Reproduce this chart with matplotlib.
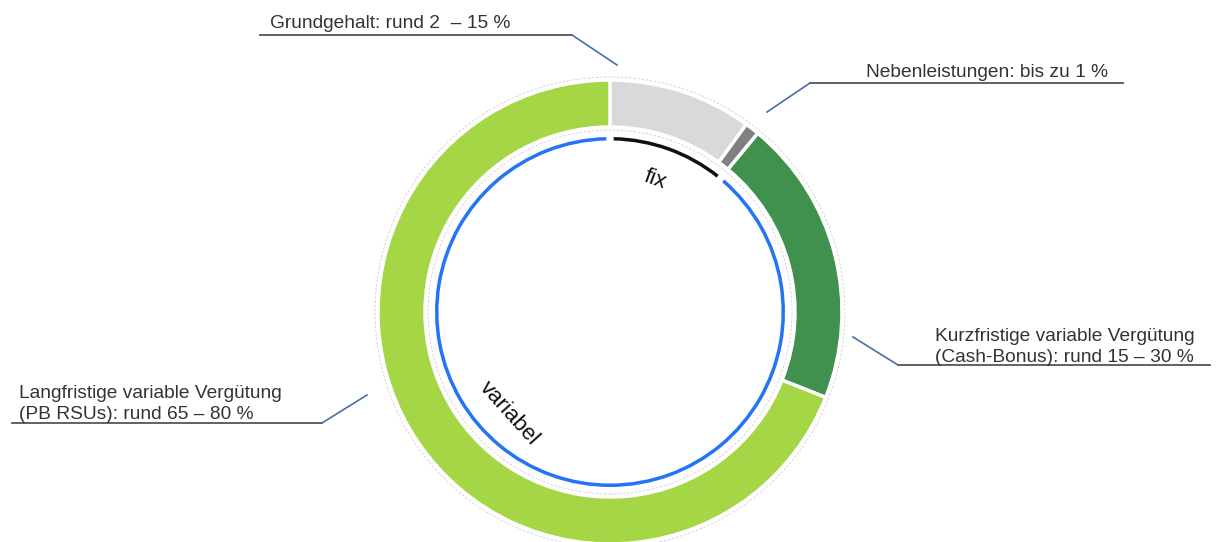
import matplotlib.pyplot as plt
from matplotlib.patches import Circle

plt.rcParams['font.family'] = ['Liberation Sans', 'DejaVu Sans']

# Anteile der Vergütungsbestandteile (im Uhrzeigersinn ab 12 Uhr)
segmente = ['Grundgehalt', 'Nebenleistungen', 'Kurzfristig', 'Langfristig']
anteile = [10, 1, 20, 69]
farben = ['#d9d9d9', '#808080', '#40914e', '#a5d645']

# innerer Ring: fix / variabel
ring_namen = ['fix', 'variabel']
ring_werte = [11, 89]
ring_farben = ['#111111', '#2474f5']

labels = ['Grundgehalt: rund 2  \u2013 15 %',
          'Nebenleistungen: bis zu 1 %',
          'Kurzfristige variable Vergütung\n(Cash-Bonus): rund 15 \u2013 30 %',
          'Langfristige variable Vergütung\n(PB RSUs): rund 65 \u2013 80 %']

W, H = 1218, 542
fig = plt.figure(figsize=(W / 100, H / 100), dpi=100)
ax = fig.add_axes([0, 0, 1, 1])

cx, cy = 610, H - 312

ax.pie(anteile, colors=farben, startangle=90, counterclock=False,
       radius=232, center=(cx, cy), frame=True,
       wedgeprops=dict(width=47, edgecolor='white', linewidth=2.5))
ring, _ = ax.pie(ring_werte, colors=ring_farben, startangle=90, counterclock=False,
                 radius=175, center=(cx, cy), frame=True,
                 wedgeprops=dict(width=3.5, linewidth=0))
# kleine Lücken zwischen den Bögen
for w in ring:
    w.set_theta1(w.theta1 + 1.2)
    w.set_theta2(w.theta2 - 1.2)

ax.set_xlim(0, W)
ax.set_ylim(0, H)
ax.set_aspect('equal')
ax.axis('off')

# dünne gestrichelte Randlinien
for r in (235, 182):
    ax.add_patch(Circle((cx, cy), r, fill=False, ec='#d0d0d0', lw=0.6, ls=(0, (3, 2))))

ax.text(655, H - 180, ring_namen[0], fontsize=16, rotation=-20,
        ha='center', va='center', color='#111111')
ax.text(509, H - 413, ring_namen[1], fontsize=16, rotation=-48,
        ha='center', va='center', color='#111111')

txt = dict(fontsize=13.8, color='#333333', linespacing=1.3)
grau = '#555555'
blau = '#4a6fa8'

# Grundgehalt
ax.plot([260, 572], [H - 35, H - 35], color=grau, lw=1.3)
ax.plot([572, 617], [H - 35, H - 65], color=blau, lw=1.2)
ax.text(270, H - 28, labels[0], ha='left', va='baseline', **txt)

# Nebenleistungen
ax.plot([810, 1123], [H - 83, H - 83], color=grau, lw=1.3)
ax.plot([810, 767], [H - 83, H - 112], color=blau, lw=1.2)
ax.text(866, H - 77, labels[1], ha='left', va='baseline', **txt)

# Kurzfristig
ax.plot([898, 1210], [H - 365, H - 365], color=grau, lw=1.3)
ax.plot([853, 898], [H - 337, H - 365], color=blau, lw=1.2)
ax.text(935, H - 362, labels[2], ha='left', va='baseline', **txt)

# Langfristig
ax.plot([12, 322], [H - 423, H - 423], color=grau, lw=1.3)
ax.plot([322, 367], [H - 423, H - 395], color=blau, lw=1.2)
ax.text(19, H - 419, labels[3], ha='left', va='baseline', **txt)

fig.savefig('out.png', dpi=100)
